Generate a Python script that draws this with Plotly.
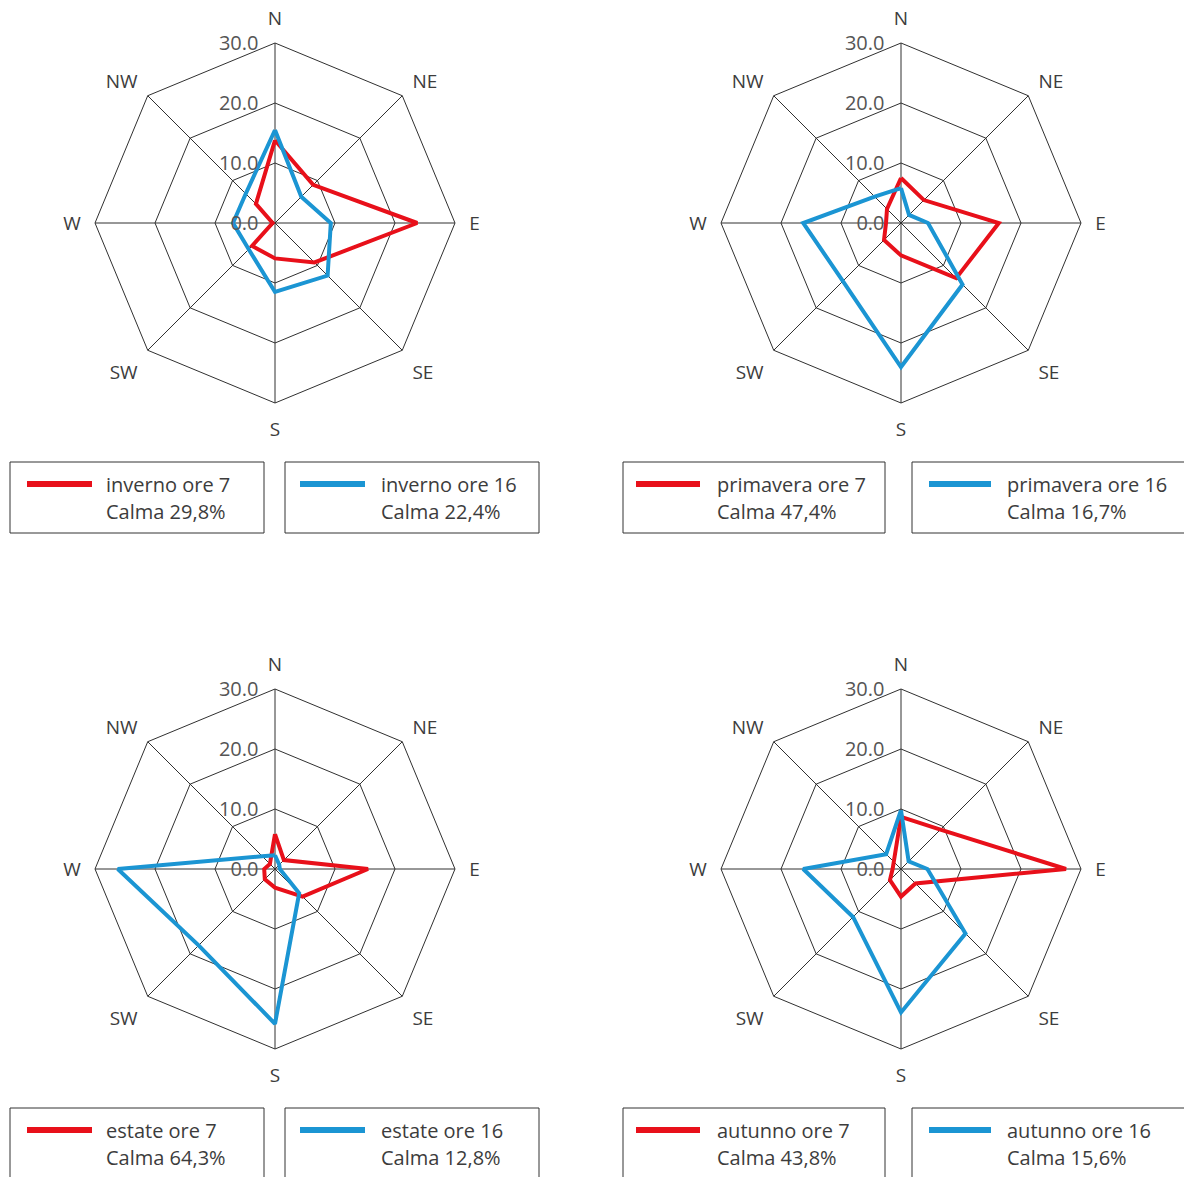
import plotly.graph_objects as go

# Wind direction sectors (compass order, clockwise from North)
directions = ["N", "NE", "E", "SE", "S", "SW", "W", "NW"]
radial_ticks = [0, 10, 20, 30]

# Frequency (%) of wind per direction, morning (ore 7) and afternoon (ore 16)
inverno_7 = [13.8, 9.0, 23.7, 9.3, 5.9, 5.4, 0.4, 4.5]
inverno_16 = [15.5, 6.2, 9.3, 12.4, 11.5, 6.2, 7.0, 6.9]
primavera_7 = [7.5, 5.4, 16.3, 13.0, 5.4, 4.0, 2.5, 3.3]
primavera_16 = [5.8, 1.9, 4.5, 14.5, 24.0, 13.7, 16.3, 6.2]
estate_7 = [5.8, 2.1, 15.5, 6.5, 3.1, 2.4, 1.8, 1.2]
estate_16 = [2.3, 1.0, 0.8, 5.7, 25.8, 18.0, 26.2, 3.0]
autunno_7 = [8.7, 9.3, 27.5, 3.4, 4.6, 2.6, 1.4, 1.7]
autunno_16 = [9.8, 1.8, 4.4, 15.2, 23.9, 11.3, 16.3, 3.5]

# Season names and calm percentages
seasons = ["inverno", "primavera", "estate", "autunno"]
hours = ["ore 7", "ore 16"]
calma_7 = ["29,8%", "47,4%", "64,3%", "43,8%"]
calma_16 = ["22,4%", "16,7%", "12,8%", "15,6%"]

series = [
    (inverno_7, inverno_16),
    (primavera_7, primavera_16),
    (estate_7, estate_16),
    (autunno_7, autunno_16),
]

RED = "#e8101a"
BLUE = "#1b95d3"
W, H = 1184, 1177
FONT = "Open Sans"
TXT = "#3c3c3c"


def px_x(x):
    return x / W


def px_y(y):
    return 1 - y / H


# panel centres in pixels and octagon radius
centres = [(275, 223), (901, 223), (275, 869), (901, 869)]
R = 180

fig = go.Figure()
layout_polars = {}

for i, ((v7, v16), (cx, cy)) in enumerate(zip(series, centres)):
    pid = "polar" if i == 0 else f"polar{i + 1}"
    for vals, color in ((v7, RED), (v16, BLUE)):
        fig.add_trace(go.Scatterpolar(
            r=vals + vals[:1],
            theta=directions + directions[:1],
            mode="lines",
            line=dict(color=color, width=4),
            subplot=pid,
            showlegend=False,
            hoverinfo="skip",
        ))
    layout_polars[pid] = dict(
        domain=dict(x=[px_x(cx - R), px_x(cx + R)],
                    y=[px_y(cy + R), px_y(cy - R)]),
        gridshape="linear",
        bgcolor="white",
        radialaxis=dict(
            range=[0, 30],
            tickvals=radial_ticks,
            tickformat=".1f",
            angle=90,
            tickangle=90,
            side="counterclockwise",
            showline=False,
            ticks="outside",
            ticklen=9,
            tickcolor="rgba(0,0,0,0)",
            gridcolor="#303030",
            gridwidth=1,
            tickfont=dict(family=FONT, size=20, color="#555555"),
        ),
        angularaxis=dict(
            categoryorder="array",
            categoryarray=directions,
            direction="clockwise",
            rotation=90,
            showline=True,
            linecolor="#303030",
            linewidth=1,
            gridcolor="#303030",
            gridwidth=1,
            ticks="outside",
            ticklen=10,
            tickcolor="rgba(0,0,0,0)",
            tickfont=dict(family=FONT, size=19, color=TXT),
        ),
    )

fig.update_layout(**layout_polars)

# Legend boxes under each rose
shapes = []
annotations = []
box_cols = [
    # (box x0, box x1, line x0, line x1, text x) for ore 7 and ore 16
    [(10, 264, 27, 92, 104), (285, 539, 300, 365, 379)],
    [(623, 885, 636, 700, 715), (912, 1190, 929, 991, 1005)],
]
row_top = [462, 1108]
row_bottom = [533, 1180]

for i, season in enumerate(seasons):
    row, col = divmod(i, 2)
    y0, y1 = row_top[row], row_bottom[row]
    ty = y0 + 22
    for j, (color, calma) in enumerate(((RED, calma_7[i]), (BLUE, calma_16[i]))):
        bx0, bx1, lx0, lx1, tx = box_cols[col][j]
        shapes.append(dict(type="rect", xref="paper", yref="paper",
                           x0=px_x(bx0), x1=px_x(bx1), y0=px_y(y1), y1=px_y(y0),
                           line=dict(color="#333333", width=1), fillcolor="white",
                           layer="below"))
        shapes.append(dict(type="line", xref="paper", yref="paper",
                           x0=px_x(lx0), x1=px_x(lx1), y0=px_y(ty), y1=px_y(ty),
                           line=dict(color=color, width=6)))
        annotations.append(dict(
            xref="paper", yref="paper", x=px_x(tx), y=px_y(ty),
            xanchor="left", yanchor="middle", showarrow=False,
            text=f"{season} {hours[j]}",
            font=dict(family=FONT, size=20, color=TXT)))
        annotations.append(dict(
            xref="paper", yref="paper", x=px_x(tx), y=px_y(ty + 27),
            xanchor="left", yanchor="middle", showarrow=False,
            text=f"Calma {calma}",
            font=dict(family=FONT, size=20, color=TXT)))

fig.update_layout(
    width=W, height=H,
    margin=dict(l=0, r=0, t=0, b=0),
    paper_bgcolor="white",
    plot_bgcolor="white",
    shapes=shapes,
    annotations=annotations,
    showlegend=False,
)

fig.write_html("out.html")
